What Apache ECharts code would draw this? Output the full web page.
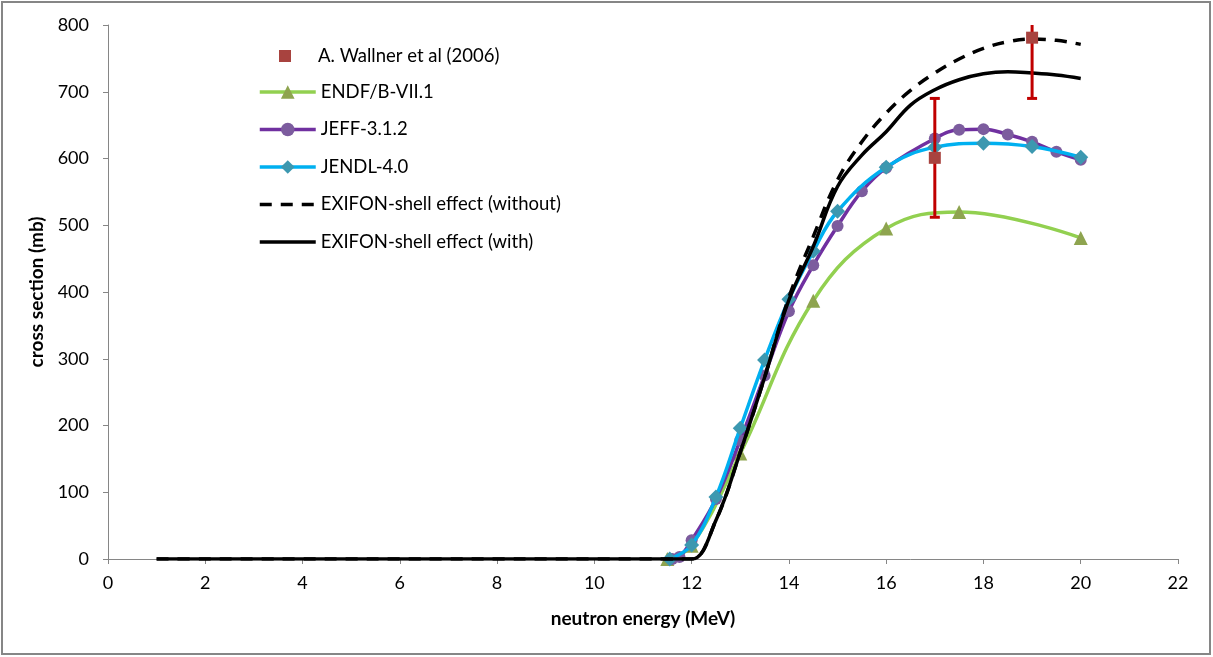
<!DOCTYPE html>
<html>
<head>
<meta charset="utf-8">
<script src="https://cdn.jsdelivr.net/npm/echarts@6/dist/echarts.min.js"></script>
<style>
html,body{margin:0;padding:0;background:#fff;}
#chart{width:1213px;height:657px;}
</style>
</head>
<body>
<div id="chart"></div>
<script>
// ---- data ----
const wallner = [[17, 601], [19, 781]];
const wallnerErr = [[17, 512, 690], [19, 690, 870]];

const endf = [[11.5, 0], [12, 20], [13, 158], [14.5, 387], [16, 495], [17.5, 520], [20, 481]];
const jeff = [[11.6, 0], [11.75, 3], [12, 28], [12.5, 90], [13, 178], [13.5, 275], [14, 371], [14.5, 440], [15, 499], [15.5, 551], [16, 586], [17, 630], [17.5, 643], [18, 644], [18.5, 636], [19, 625], [19.5, 610], [20, 598]];
const jendl = [[11.55, 0], [12, 21], [12.5, 93], [13, 196], [13.5, 298], [14, 389], [14.5, 461], [15, 521], [16, 587], [17, 617], [18, 623], [19, 618], [20, 602]];
const exifonWithout = [[1, 0], [2, 0], [3, 0], [4, 0], [5, 0], [6, 0], [7, 0], [8, 0], [9, 0], [10, 0], [11, 0], [11.5, 0], [12, 0], [12.5, 58], [13, 160], [13.5, 272], [14, 392], [14.5, 483], [15, 568], [15.5, 625], [16, 668], [16.5, 702], [17, 728], [17.5, 749], [18, 765], [18.5, 775], [19, 779], [19.5, 777], [20, 771]];
const exifonWith = [[1, 0], [2, 0], [3, 0], [4, 0], [5, 0], [6, 0], [7, 0], [8, 0], [9, 0], [10, 0], [11, 0], [11.5, 0], [12, 0], [12.5, 58], [13, 160], [13.5, 272], [14, 388], [14.5, 468], [15, 558], [15.5, 605], [16, 640], [16.5, 680], [17, 703], [17.5, 718], [18, 727], [18.5, 730], [19, 728], [19.5, 725], [20, 720]];

const names = ['A. Wallner et al (2006)', 'ENDF/B-VII.1', 'JEFF-3.1.2', 'JENDL-4.0', 'EXIFON-shell effect (without)', 'EXIFON-shell effect (with)'];

const FONT = 'Lato, "Liberation Sans", sans-serif';
const chart = echarts.init(document.getElementById('chart'), null, {renderer: 'canvas'});

const option = {
  animation: false,
  backgroundColor: '#ffffff',
  graphic: [{
    type: 'rect', shape: {x: 2, y: 2, width: 1208, height: 652},
    style: {fill: 'none', stroke: '#868686', lineWidth: 2}, silent: true, z: -1
  }],
  grid: {left: 108, right: 35, top: 25, bottom: 98},
  legend: [{
    data: [names[0]],
    left: 274, top: 41,
    itemWidth: 12, itemHeight: 12,
    textStyle: {fontFamily: FONT, fontSize: 18.5, lineHeight: 20, color: '#000', padding: [0, 0, 0, 22]},
    selectedMode: false
  }, {
    data: [
      {name: names[1]},
      {name: names[2]},
      {name: names[3]},
      {name: names[4], itemStyle: {opacity: 0}},
      {name: names[5], itemStyle: {opacity: 0}}
    ],
    orient: 'vertical',
    left: 253, top: 77,
    itemWidth: 56, itemHeight: 17, itemGap: 17.5,
    lineStyle: {width: 3.5},
    textStyle: {fontFamily: FONT, fontSize: 18.5, lineHeight: 20, color: '#000', padding: [0, 0, 0, 0]},
    selectedMode: false
  }],
  xAxis: {
    type: 'value', min: 0, max: 22, interval: 2,
    name: 'neutron energy (MeV)', nameLocation: 'middle', nameGap: 50,
    nameTextStyle: {fontFamily: FONT, fontSize: 19, fontWeight: 'bold', color: '#000'},
    axisLine: {show: true, lineStyle: {color: '#868686', width: 1}},
    axisTick: {show: true, length: 5, lineStyle: {color: '#868686'}},
    axisLabel: {fontFamily: FONT, fontSize: 18, color: '#000', margin: 15},
    splitLine: {show: false}
  },
  yAxis: {
    type: 'value', min: 0, max: 800, interval: 100,
    name: 'cross section (mb)', nameLocation: 'middle', nameGap: 47,
    nameTextStyle: {fontFamily: FONT, fontSize: 19, fontWeight: 'bold', color: '#000'},
    axisLine: {show: true, lineStyle: {color: '#868686', width: 1}},
    axisTick: {show: true, length: 5, lineStyle: {color: '#868686'}},
    axisLabel: {fontFamily: FONT, fontSize: 18, color: '#000', margin: 19},
    splitLine: {show: false}
  },
  series: [
    {
      name: names[1], type: 'line', data: endf, smooth: 0.4,
      symbol: 'triangle', symbolSize: 14, showAllSymbol: true,
      lineStyle: {color: '#92D050', width: 3.5},
      itemStyle: {color: '#8EA44F', borderWidth: 0, opacity: 1},
      color: '#92D050', z: 3
    },
    {
      name: names[2], type: 'line', data: jeff, smooth: 0.4,
      symbol: 'circle', symbolSize: 12, showAllSymbol: true,
      lineStyle: {color: '#7030A0', width: 3.5},
      itemStyle: {color: '#7C5C9E', borderWidth: 0, opacity: 1},
      color: '#7030A0', z: 4
    },
    {
      name: names[3], type: 'line', data: jendl, smooth: 0.4,
      symbol: 'diamond', symbolSize: 15, showAllSymbol: true,
      lineStyle: {color: '#00B0F0', width: 3.5},
      itemStyle: {color: '#3C98B0', borderWidth: 0, opacity: 1},
      color: '#00B0F0', z: 5
    },
    {
      name: names[4], type: 'line', data: exifonWithout, smooth: 0.4,
      symbol: 'none',
      lineStyle: {color: '#000', width: 3.5, type: [12, 9]},
      itemStyle: {color: '#000'},
      color: '#000', z: 6
    },
    {
      name: names[5], type: 'line', data: exifonWith, smooth: 0.4,
      symbol: 'none',
      lineStyle: {color: '#000', width: 3.5},
      itemStyle: {color: '#000'},
      color: '#000', z: 6
    },
    {
      name: 'err', type: 'custom', data: wallnerErr, z: 8,
      clip: true,
      renderItem: function (params, api) {
        const x = api.value(0);
        const lo = api.coord([x, api.value(1)]);
        const hi = api.coord([x, api.value(2)]);
        const top = Math.max(hi[1], params.coordSys.y);
        const style = {stroke: '#C00000', lineWidth: 3};
        return {
          type: 'group',
          children: [
            {type: 'line', shape: {x1: lo[0], y1: lo[1], x2: lo[0], y2: top}, style: style},
            {type: 'line', shape: {x1: lo[0] - 5, y1: lo[1], x2: lo[0] + 5, y2: lo[1]}, style: style},
            hi[1] >= params.coordSys.y ?
              {type: 'line', shape: {x1: hi[0] - 5, y1: hi[1], x2: hi[0] + 5, y2: hi[1]}, style: style} :
              {type: 'group', children: []}
          ]
        };
      }
    },
    {
      name: names[0], type: 'scatter', data: wallner,
      symbol: 'rect', symbolSize: 12,
      itemStyle: {color: '#A8433F', opacity: 1},
      color: '#A8433F', z: 9
    }
  ]
};
chart.setOption(option);
</script>
</body>
</html>
